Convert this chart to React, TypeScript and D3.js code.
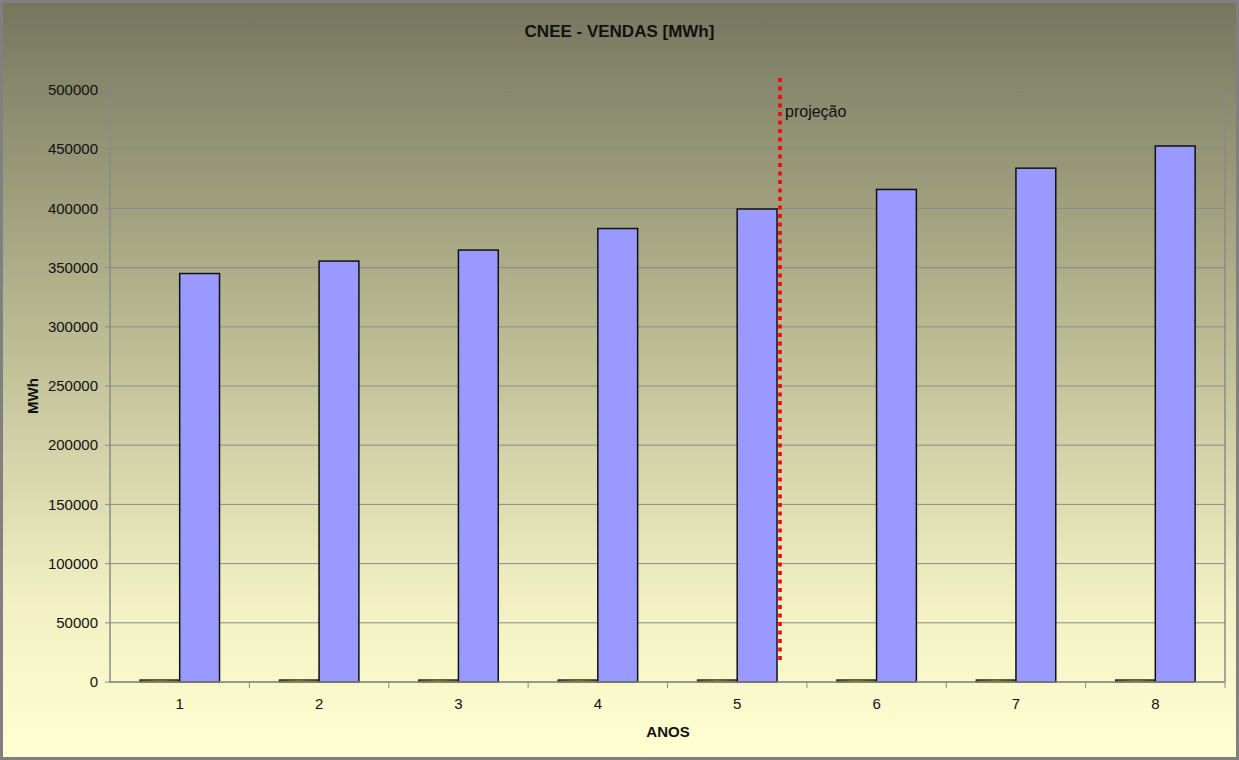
import React from "react";
import * as d3 from "d3";

const categories = ["1", "2", "3", "4", "5", "6", "7", "8"];
const smallSeries = [1800, 1800, 1800, 1800, 1800, 1800, 1800, 1800];
const salesSeries = [345000, 355500, 364800, 383000, 399500, 416000, 434000, 452700];
const yTicks = [0, 50000, 100000, 150000, 200000, 250000, 300000, 350000, 400000, 450000, 500000];
const projectionAfter = "5";

const W = 1239;
const H = 760;
const left = 110;
const right = 1225;
const top = 90;
const bottom = 682;

export default function App() {
  const x = d3.scaleBand<string>().domain(categories).range([left, right]).paddingInner(0).paddingOuter(0);
  const y = d3.scaleLinear().domain([0, 500000]).range([bottom, top]);
  const bw = x.bandwidth();
  const barW = bw / 3.5;
  const gap = (bw - 2 * barW) / 2;
  const dashX = x(projectionAfter)! + gap + 2 * barW + 3;
  const font = "Liberation Sans, Arial, sans-serif";
  return (
    <svg width={W} height={H} style={{ position: "absolute", left: 0, top: 0 }} fontFamily={font}>
      <defs>
        <linearGradient id="bg" x1="0" y1="0" x2="0" y2="1">
          <stop offset="0" stopColor="#76765f" />
          <stop offset="0.45" stopColor="#bcbc94" />
          <stop offset="0.8" stopColor="#f3f1c4" />
          <stop offset="1" stopColor="#ffffd2" />
        </linearGradient>
        <linearGradient id="small" x1="0" y1="0" x2="1" y2="0">
          <stop offset="0" stopColor="#4a5a20" />
          <stop offset="0.5" stopColor="#b8b000" />
          <stop offset="1" stopColor="#4a5a20" />
        </linearGradient>
      </defs>
      <rect x={1.5} y={1.5} width={W - 3} height={H - 3} fill="url(#bg)" stroke="#808080" strokeWidth={3} />
      {yTicks.map((t) => (
        <g key={t}>
          <line x1={left} x2={right} y1={y(t)} y2={y(t)} stroke="#8a8a8a" strokeWidth={1} />
          <line x1={left - 5} x2={left} y1={y(t)} y2={y(t)} stroke="#8a8a8a" strokeWidth={1} />
          <text x={left - 12} y={y(t)} dy="0.35em" textAnchor="end" fontSize={15} fill="#111">
            {t}
          </text>
        </g>
      ))}
      <line x1={right} x2={right} y1={top} y2={bottom} stroke="#8a8a8a" strokeWidth={1.5} />
      <line x1={left} x2={left} y1={top} y2={bottom + 1} stroke="#8a8a8a" strokeWidth={1.5} />
      {categories.map((c, i) => (
        <g key={c}>
          <line x1={x(c)! + bw} x2={x(c)! + bw} y1={bottom} y2={bottom + 6} stroke="#8a8a8a" />
          <rect x={x(c)! + gap} y={y(smallSeries[i])} width={barW} height={bottom - y(smallSeries[i])} fill="url(#small)" stroke="#111" strokeWidth={1} />
          <rect x={x(c)! + gap + barW} y={y(salesSeries[i])} width={barW} height={bottom - y(salesSeries[i])} fill="#9999ff" stroke="#111" strokeWidth={1.5} />
          <text x={x(c)! + bw / 2} y={bottom + 27} textAnchor="middle" fontSize={15} fill="#111">
            {c}
          </text>
        </g>
      ))}
      <line x1={left} x2={right} y1={bottom} y2={bottom} stroke="#8a8a8a" strokeWidth={1.5} />
      <line x1={dashX} x2={dashX} y1={78} y2={662} stroke="#ff0000" strokeWidth={3.5} strokeDasharray="4 4.5" />
      <text x={dashX + 5} y={117} fontSize={16} fill="#111">projeção</text>
      <text x={W / 2} y={37} textAnchor="middle" fontSize={17} fontWeight="bold" fill="#111">
        CNEE - VENDAS [MWh]
      </text>
      <text x={668} y={737} textAnchor="middle" fontSize={15} fontWeight="bold" fill="#111">
        ANOS
      </text>
      <text transform={`translate(38, ${(top + bottom) / 2 + 10}) rotate(-90)`} textAnchor="middle" fontSize={15} fontWeight="bold" fill="#111">
        MWh
      </text>
    </svg>
  );
}
